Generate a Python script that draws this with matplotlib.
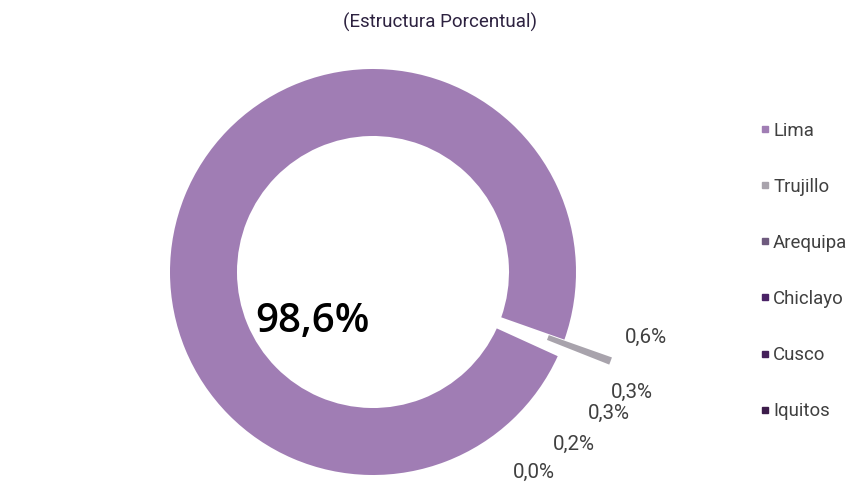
import matplotlib
matplotlib.use("Agg")
import matplotlib.pyplot as plt
from matplotlib.lines import Line2D

categories = ["Lima", "Trujillo", "Arequipa", "Chiclayo", "Cusco", "Iquitos"]
values = [98.6, 0.6, 0.3, 0.3, 0.2, 0.0]
label_texts = ["98,6%", "0,6%", "0,3%", "0,3%", "0,2%", "0,0%"]
title = "(Estructura Porcentual)"

colors = ["#A07DB4", "#A8A3AC", "#6E5A7E", "#4A2266", "#45205A", "#3C1C4A"]
visible = [True, True, False, False, False, False]
explode = [0, 0.25, 0, 0, 0, 0]
# label positions (axes data units, radius = 1)
label_pos = [(-0.296, -0.246), (1.345, -0.320), (1.276, -0.591),
             (1.163, -0.695), (0.990, -0.847), (0.793, -0.985)]

W, H = 849, 482
fig = plt.figure(figsize=(W / 100, H / 100), dpi=100)
cx, cy, r = 373, 272, 203
ax = fig.add_axes([(cx - r) / W, (H - cy - r) / H, 2 * r / W, 2 * r / H])
ax.axis("off")

plot_vals = [v if v > 0 else 1e-6 for v in values]
wedges, _ = ax.pie(plot_vals, colors=colors, startangle=-24.5, counterclock=False,
                   explode=explode, radius=1.0,
                   wedgeprops=dict(width=0.33, linewidth=0))
for w, vis in zip(wedges, visible):
    w.set_clip_on(False)
    if not vis:
        w.set_visible(False)
ax.set_xlim(-1, 1)
ax.set_ylim(-1, 1)
ax.set_aspect("equal")

for i, (txt, (x, y)) in enumerate(zip(label_texts, label_pos)):
    if i == 0:
        ax.text(x, y, txt, ha="center", va="center", fontsize=29,
                family="Open Sans", fontweight="semibold", color="black")
    else:
        ax.text(x, y, txt, ha="center", va="center", fontsize=14.8,
                family="Roboto", color="#404040")

fig.text(440 / W, 1 - 22 / H, title, ha="center", va="center", fontsize=13.5,
         family="Roboto", color="#2D2240")

handles = [Line2D([], [], marker="s", linestyle="none", markersize=5,
                  markerfacecolor=c, markeredgecolor=c) for c in colors]
leg = fig.legend(handles, categories, loc="upper left",
                 bbox_to_anchor=(759.5 / W, 1 - 121.5 / H), frameon=False,
                 prop=dict(family="Roboto", size=13.4), labelcolor="#404040",
                 handlelength=0.6, handletextpad=0.13, labelspacing=2.05,
                 borderpad=0, borderaxespad=0)

fig.savefig("out.png", dpi=100)
